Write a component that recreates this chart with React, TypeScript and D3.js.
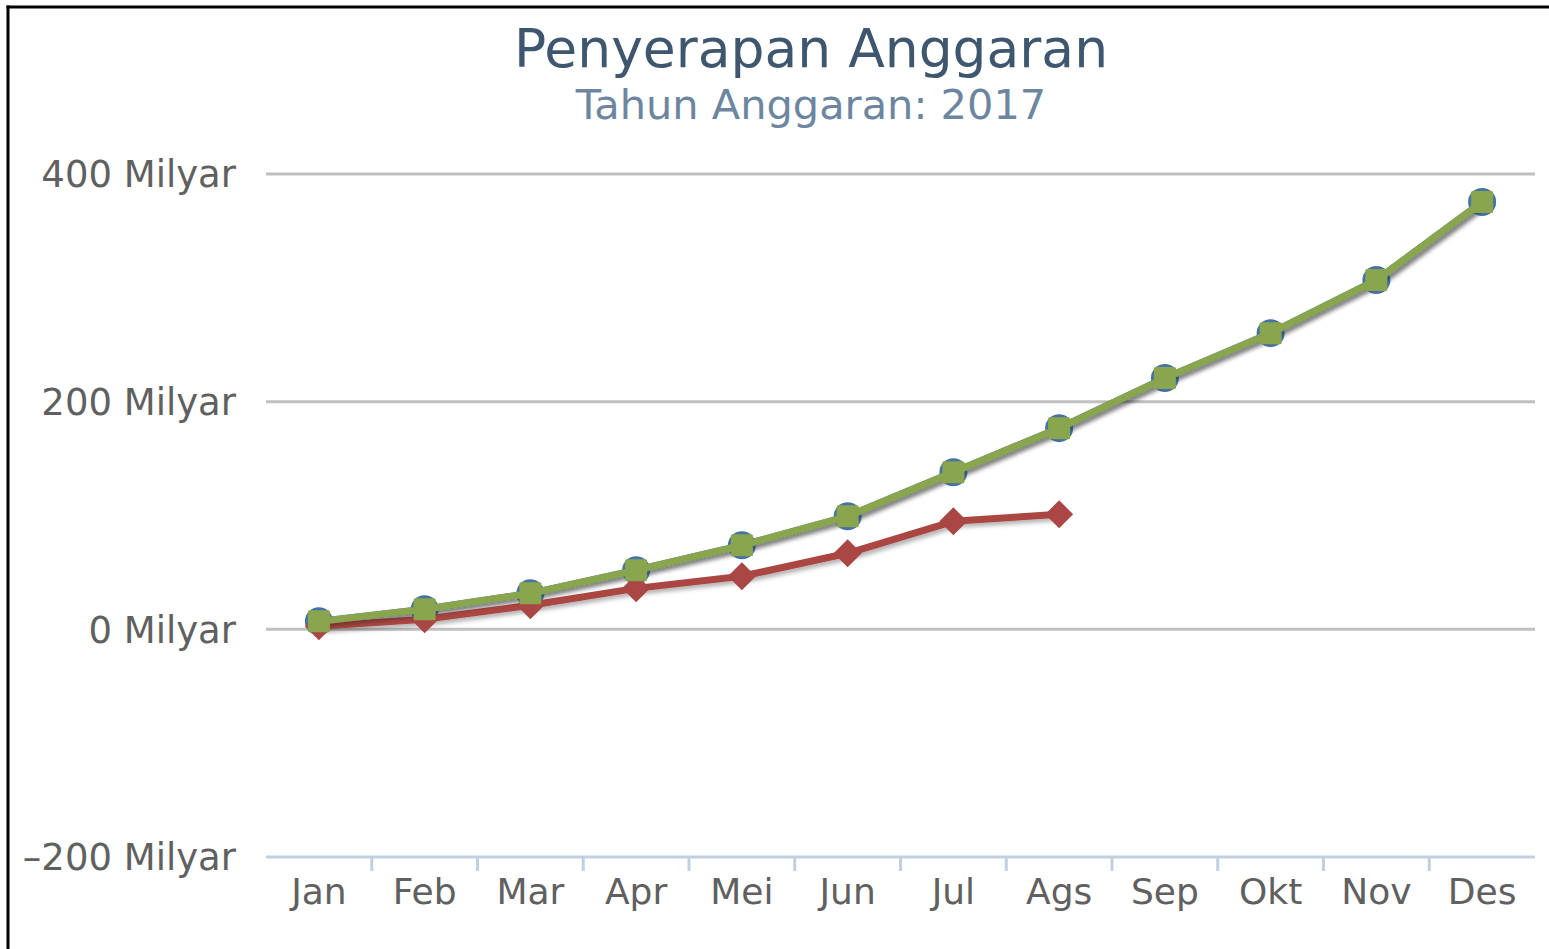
import React from "react";
import * as d3 from "d3";

const months = ["Jan", "Feb", "Mar", "Apr", "Mei", "Jun", "Jul", "Ags", "Sep", "Okt", "Nov", "Des"];
const rencana = [7.0, 17.6, 31.6, 51.9, 73.8, 99.3, 138, 176.7, 220.7, 260.2, 306.8, 375.4];
const realisasi = [2.6, 8.8, 21.1, 36, 46.6, 66.8, 94.9, 101.1];
const target = [7.0, 17.6, 31.6, 51.9, 73.8, 99.3, 138, 176.7, 220.7, 260.2, 306.8, 375.4];
const yTicks = [-200, 0, 200, 400];

const W = 1549;
const H = 949;
const plot = { left: 266, right: 1535, top: 174, bottom: 857 };
const FONT = "'DejaVu Sans', 'Lucida Grande', sans-serif";

export default function App() {
  const x = d3.scaleBand<string>().domain(months).range([plot.left, plot.right]).padding(0);
  const y = d3.scaleLinear().domain([-200, 400]).range([plot.bottom, plot.top]);
  const cx = (i: number) => (x(months[i]) as number) + x.bandwidth() / 2;
  const line = d3
    .line<number>()
    .x((_, i) => cx(i))
    .y((d) => y(d));

  const bounds = months.map((m) => x(m) as number).concat([plot.right]);

  return (
    <div style={{ position: "absolute", left: 0, top: 0, width: W, height: H, background: "#fff" }}>
      <svg width={W} height={H} style={{ display: "block" }}>
        <defs>
          <filter id="sh" x="-10%" y="-10%" width="120%" height="130%">
            <feDropShadow dx="3" dy="3" stdDeviation="2" floodColor="#000" floodOpacity="0.3" />
          </filter>
        </defs>
        <rect x={0} y={0} width={W} height={H} fill="#fff" />
        {/* frame */}
        <line x1={8} y1={5.5} x2={8} y2={H} stroke="#000" strokeWidth={3} />
        <line x1={6.5} y1={7} x2={W} y2={7} stroke="#000" strokeWidth={3} />

        {/* title */}
        <text x={811} y={67} textAnchor="middle" fontFamily={FONT} fontSize={53.5} fill="#3E576F">
          Penyerapan Anggaran
        </text>
        <text x={811} y={119} textAnchor="middle" fontFamily={FONT} fontSize={41.5} fill="#6D869F">
          Tahun Anggaran: 2017
        </text>

        {/* grid */}
        {yTicks.map((t) => (
          <g key={t}>
            {t !== -200 && (
              <line x1={plot.left} x2={plot.right} y1={y(t)} y2={y(t)} stroke="#C0C0C0" strokeWidth={3} />
            )}
            <text
              x={236}
              y={y(t)}
              dy="0.36em"
              textAnchor="end"
              fontFamily={FONT}
              fontSize={37}
              fill="#606060"
            >
              {(t < 0 ? "\u2013" + Math.abs(t) : String(t)) + " Milyar"}
            </text>
          </g>
        ))}

        {/* x axis */}
        <line x1={plot.left} x2={plot.right} y1={plot.bottom} y2={plot.bottom} stroke="#C0D0E0" strokeWidth={3} />
        {bounds.slice(1, -1).map((b, i) => (
          <line key={i} x1={b} x2={b} y1={plot.bottom} y2={plot.bottom + 14} stroke="#C0D0E0" strokeWidth={3} />
        ))}
        {months.map((m, i) => (
          <text key={m} x={cx(i)} y={904} textAnchor="middle" fontFamily={FONT} fontSize={36} fill="#606060">
            {m}
          </text>
        ))}

        {/* series 1: blue circles */}
        <path d={line(target) as string} fill="none" stroke="#4572A7" strokeWidth={7} filter="url(#sh)" strokeLinejoin="round" />
        {target.map((v, i) => (
          <circle key={i} cx={cx(i)} cy={y(v)} r={14} fill="#4572A7" />
        ))}

        {/* series 2: red diamonds */}
        <path d={line(realisasi) as string} fill="none" stroke="#AA4643" strokeWidth={7} filter="url(#sh)" strokeLinejoin="round" />
        {realisasi.map((v, i) => (
          <path
            key={i}
            d={`M${cx(i)},${y(v) - 14} L${cx(i) + 14},${y(v)} L${cx(i)},${y(v) + 14} L${cx(i) - 14},${y(v)} Z`}
            fill="#AA4643"
          />
        ))}

        {/* series 3: green squares */}
        <path d={line(rencana) as string} fill="none" stroke="#89A54E" strokeWidth={7} filter="url(#sh)" strokeLinejoin="round" />
        {rencana.map((v, i) => (
          <rect key={i} x={cx(i) - 11} y={y(v) - 11} width={22} height={22} rx={1.5} fill="#89A54E" />
        ))}
      </svg>
    </div>
  );
}
